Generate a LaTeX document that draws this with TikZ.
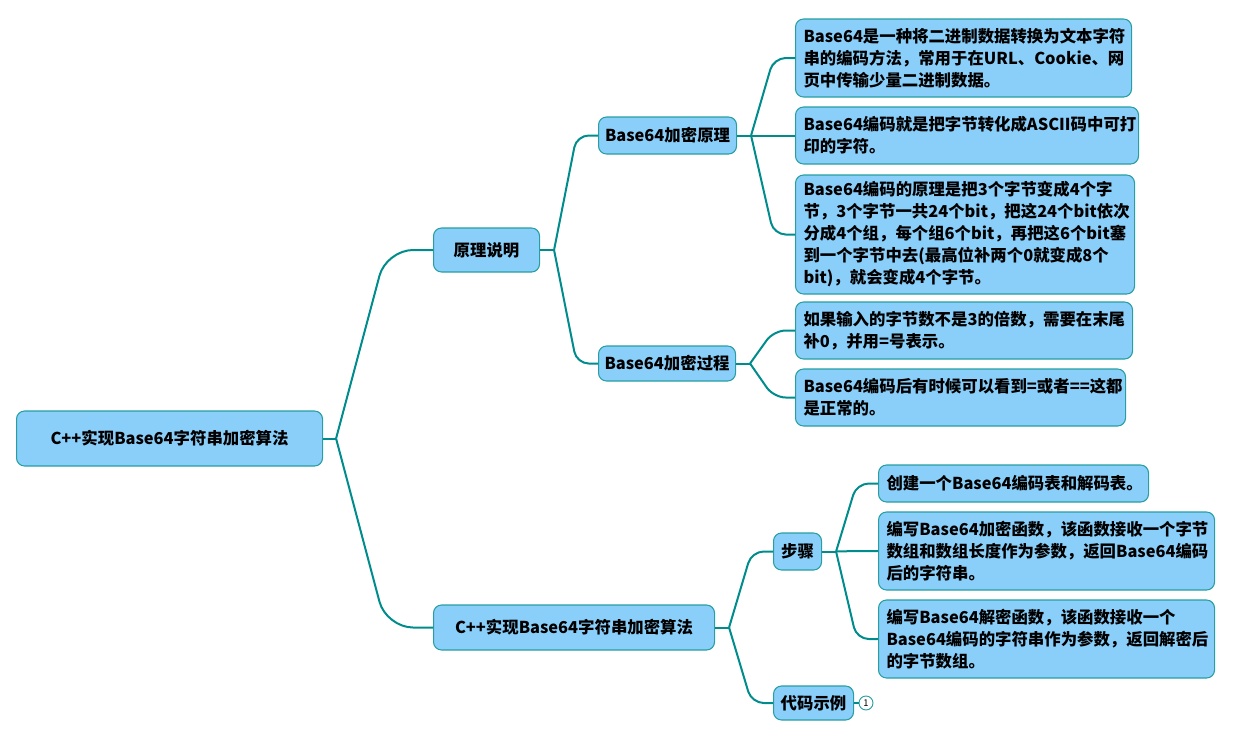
\documentclass[tikz,border=0pt]{standalone}
\usepackage{fontspec}
\setmainfont{Noto Sans CJK SC}
\usetikzlibrary{positioning}
\definecolor{boxblue}{RGB}{137,207,250}
\definecolor{boxedge}{RGB}{38,158,162}
\definecolor{linkcol}{RGB}{0,140,140}

\tikzset{
	topic/.style={draw=boxedge, fill=boxblue, rounded corners=6pt, line width=0.8pt,
		font=\bfseries\fontsize{12.3}{16.5}\selectfont, inner sep=0pt, align=center, anchor=west},
	leaf/.style={topic, align=left, inner xsep=6pt},
	link/.style={draw=linkcol, line width=1.5pt, line join=round},
	smallfork/.style={link, rounded corners=9pt},
	bigfork/.style={link, rounded corners=20pt}
}

\begin{document}
\begin{tikzpicture}[x=0.75pt, y=-0.75pt]
	\useasboundingbox (0,0) rectangle (1247,747);
	% main topic and first level
	\node [topic, minimum width=229.5pt, minimum height=41.25pt] (root) at (16,438.5) {C++实现Base64字符串加密算法};
	\node [topic, minimum width=79.5pt, minimum height=33pt] (idea) at (433,250) {原理说明};
	\node [topic, minimum width=210.75pt, minimum height=33.75pt] (impl) at (433,627.5) {C++实现Base64字符串加密算法};
	% second level
	\node [topic, minimum width=103.5pt, minimum height=27.75pt] (principle) at (598,135.5) {Base64加密原理};
	\node [topic, minimum width=102.75pt, minimum height=26.25pt] (process) at (598,363.5) {Base64加密过程};
	\node [topic, minimum width=36pt, minimum height=27.75pt] (steps) at (773,551.5) {步骤};
	\node [topic, minimum width=60pt, minimum height=25.5pt] (code) at (773,703) {代码示例};
	% leaves
	\node [leaf, text width=240pt, minimum height=58.5pt] (p1) at (795,58) {Base64是一种将二进制数据转换为文本字符\\串的编码方法，常用于在URL、Cookie、网\\页中传输少量二进制数据。};
	\node [leaf, text width=245.25pt, minimum height=42.75pt] (p2) at (795,135.5) {Base64编码就是把字节转化成ASCII码中可打\\印的字符。};
	\node [leaf, text width=242.25pt, minimum height=89.25pt] (p3) at (795,234.5) {Base64编码的原理是把3个字节变成4个字\\节，3个字节一共24个bit，把这24个bit依次\\分成4个组，每个组6个bit，再把这6个bit塞\\到一个字节中去(最高位补两个0就变成8个\\bit)，就会变成4个字节。};
	\node [leaf, text width=240.75pt, minimum height=42.75pt] (r1) at (795,330.5) {如果输入的字节数不是3的倍数，需要在末尾\\补0，并用=号表示。};
	\node [leaf, text width=235.5pt, minimum height=42.75pt] (r2) at (795,397.5) {Base64编码后有时候可以看到=或者==这都\\是正常的。};
	\node [leaf, text width=190.5pt, minimum height=27.75pt] (s1) at (878,483.5) {创建一个Base64编码表和解码表。};
	\node [leaf, text width=240pt, minimum height=58.5pt] (s2) at (878,551) {编写Base64加密函数，该函数接收一个字节\\数组和数组长度作为参数，返回Base64编码\\后的字符串。};
	\node [leaf, text width=240pt, minimum height=58.5pt] (s3) at (878,639) {编写Base64解密函数，该函数接收一个\\Base64编码的字符串作为参数，返回解密后\\的字节数组。};
	\node [circle, draw=boxedge, fill=white, line width=0.7pt, minimum size=10.5pt, inner sep=0pt,
		font=\fontsize{7}{7}\selectfont] (more) at (866,703) {1};
	% connectors
	\draw [link] (root.east) -- ++(9.75pt,0) coordinate (f0);
	\foreach \c in {idea,impl}
		\draw [bigfork] (f0) -- ([xshift=-35pt]\c.west) -- (\c.west);
	\draw [link] (idea.east) -- ++(10.5pt,0) coordinate (f1);
	\foreach \c in {principle,process}
		\draw [smallfork] (f1) -- ([xshift=-16pt]\c.west) -- (\c.west);
	\draw [link] (principle.east) -- ++(10.5pt,0) coordinate (f2);
	\foreach \c in {p1,p2,p3}
		\draw [smallfork] (f2) -- ([xshift=-16pt]\c.west) -- (\c.west);
	\draw [link] (process.east) -- ++(10.5pt,0) coordinate (f3);
	\foreach \c in {r1,r2}
		\draw [smallfork] (f3) -- ([xshift=-16pt]\c.west) -- (\c.west);
	\draw [link] (impl.east) -- ++(10.5pt,0) coordinate (f4);
	\foreach \c in {steps,code}
		\draw [smallfork] (f4) -- ([xshift=-16pt]\c.west) -- (\c.west);
	\draw [link] (steps.east) -- ++(10.5pt,0) coordinate (f5);
	\foreach \c in {s1,s2,s3}
		\draw [smallfork] (f5) -- ([xshift=-16pt]\c.west) -- (\c.west);
	\draw [link] (code.east) -- (more.west);
\end{tikzpicture}
\end{document}
